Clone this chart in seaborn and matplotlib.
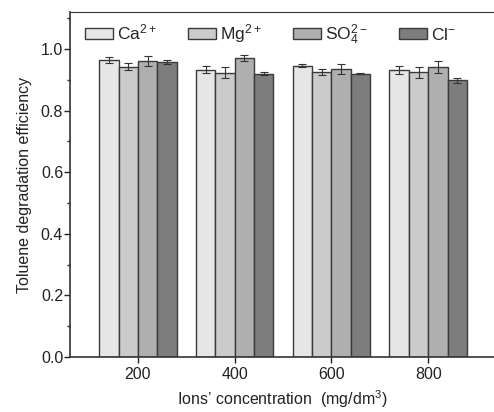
import matplotlib
matplotlib.use("Agg")
import matplotlib.pyplot as plt
import seaborn as sns
import pandas as pd
import numpy as np
from matplotlib.ticker import MultipleLocator

concentrations = [200, 400, 600, 800]
ions = ["Ca$^{2+}$", "Mg$^{2+}$", "SO$_4^{2-}$", "Cl$^{-}$"]
ca = [0.964, 0.933, 0.946, 0.931]
mg = [0.942, 0.923, 0.924, 0.924]
so4 = [0.962, 0.970, 0.936, 0.941]
cl = [0.958, 0.920, 0.919, 0.898]
ca_err = [0.010, 0.010, 0.004, 0.012]
mg_err = [0.011, 0.018, 0.010, 0.018]
so4_err = [0.016, 0.010, 0.016, 0.019]
cl_err = [0.007, 0.006, 0.002, 0.008]
colors = ["#e6e6e6", "#cbcbcb", "#afafaf", "#7d7d7d"]

values = [ca, mg, so4, cl]
errors = [ca_err, mg_err, so4_err, cl_err]
rows = []
for ion, vals, errs in zip(ions, values, errors):
    for c, v, e in zip(concentrations, vals, errs):
        rows.append({"conc": c, "ion": ion, "eff": v, "err": e})
df = pd.DataFrame(rows)

sns.set_style("ticks")
plt.rcParams["font.family"] = ["Liberation Sans", "DejaVu Sans"]
plt.rcParams["mathtext.fontset"] = "custom"
plt.rcParams["mathtext.rm"] = "Liberation Sans"
plt.rcParams["mathtext.it"] = "Liberation Sans"

fig = plt.figure(figsize=(4.94, 4.12), dpi=100)
ax = fig.add_axes([0.142, 0.1335, 0.858, 0.8375])

sns.barplot(data=df, x="conc", y="eff", hue="ion", hue_order=ions,
            palette=colors, native_scale=True, width=0.8, errorbar=None,
            edgecolor="#3a3a3a", linewidth=1.0, ax=ax, saturation=1)

# error bars at bar centres
for container, ion in zip(ax.containers, ions):
    sub = df[df["ion"] == ion]
    xs = [p.get_x() + p.get_width() / 2 for p in container.patches]
    ax.errorbar(xs, sub["eff"].values, yerr=sub["err"].values, fmt="none",
                ecolor="#333333", elinewidth=0.8, capsize=3, capthick=0.8)

ax.set_xlim(60, 936)
ax.set_ylim(0, 1.12)
ax.set_xticks(concentrations)
ax.set_xticklabels([str(c) for c in concentrations])
ax.yaxis.set_major_locator(MultipleLocator(0.2))
ax.yaxis.set_minor_locator(MultipleLocator(0.1))
ax.set_yticks(np.arange(0, 1.01, 0.2))
ax.set_yticklabels([f"{v:.1f}" for v in np.arange(0, 1.01, 0.2)])
ax.tick_params(axis="both", which="major", direction="out", length=4, width=1,
               labelsize=11.5, colors="#222222", pad=1)
ax.tick_params(axis="x", which="major", pad=3)
ax.tick_params(axis="y", which="minor", direction="out", length=2.5, width=1)

for s in ["left", "bottom", "top"]:
    ax.spines[s].set_color("#333333")
    ax.spines[s].set_linewidth(1.2)
ax.spines["top"].set_visible(True)
ax.spines["top"].set_linewidth(0.8)
ax.spines["right"].set_visible(False)

ax.set_xlabel("Ions\u2019 concentration  (mg/dm$^{3}$)", fontsize=11.5, color="#222222", labelpad=5)
ax.set_ylabel("Toluene degradation efficiency", fontsize=11.5, color="#222222", labelpad=6)

handles, labels = ax.get_legend_handles_labels()
leg = ax.legend(handles, labels, loc="upper left", bbox_to_anchor=(0.01, 1.0),
                ncol=4, frameon=False, fontsize=12.5, handlelength=1.6,
                handleheight=0.6, handletextpad=0.25, columnspacing=1.8,
                borderaxespad=0.2)

fig.savefig("out.png", dpi=100)
